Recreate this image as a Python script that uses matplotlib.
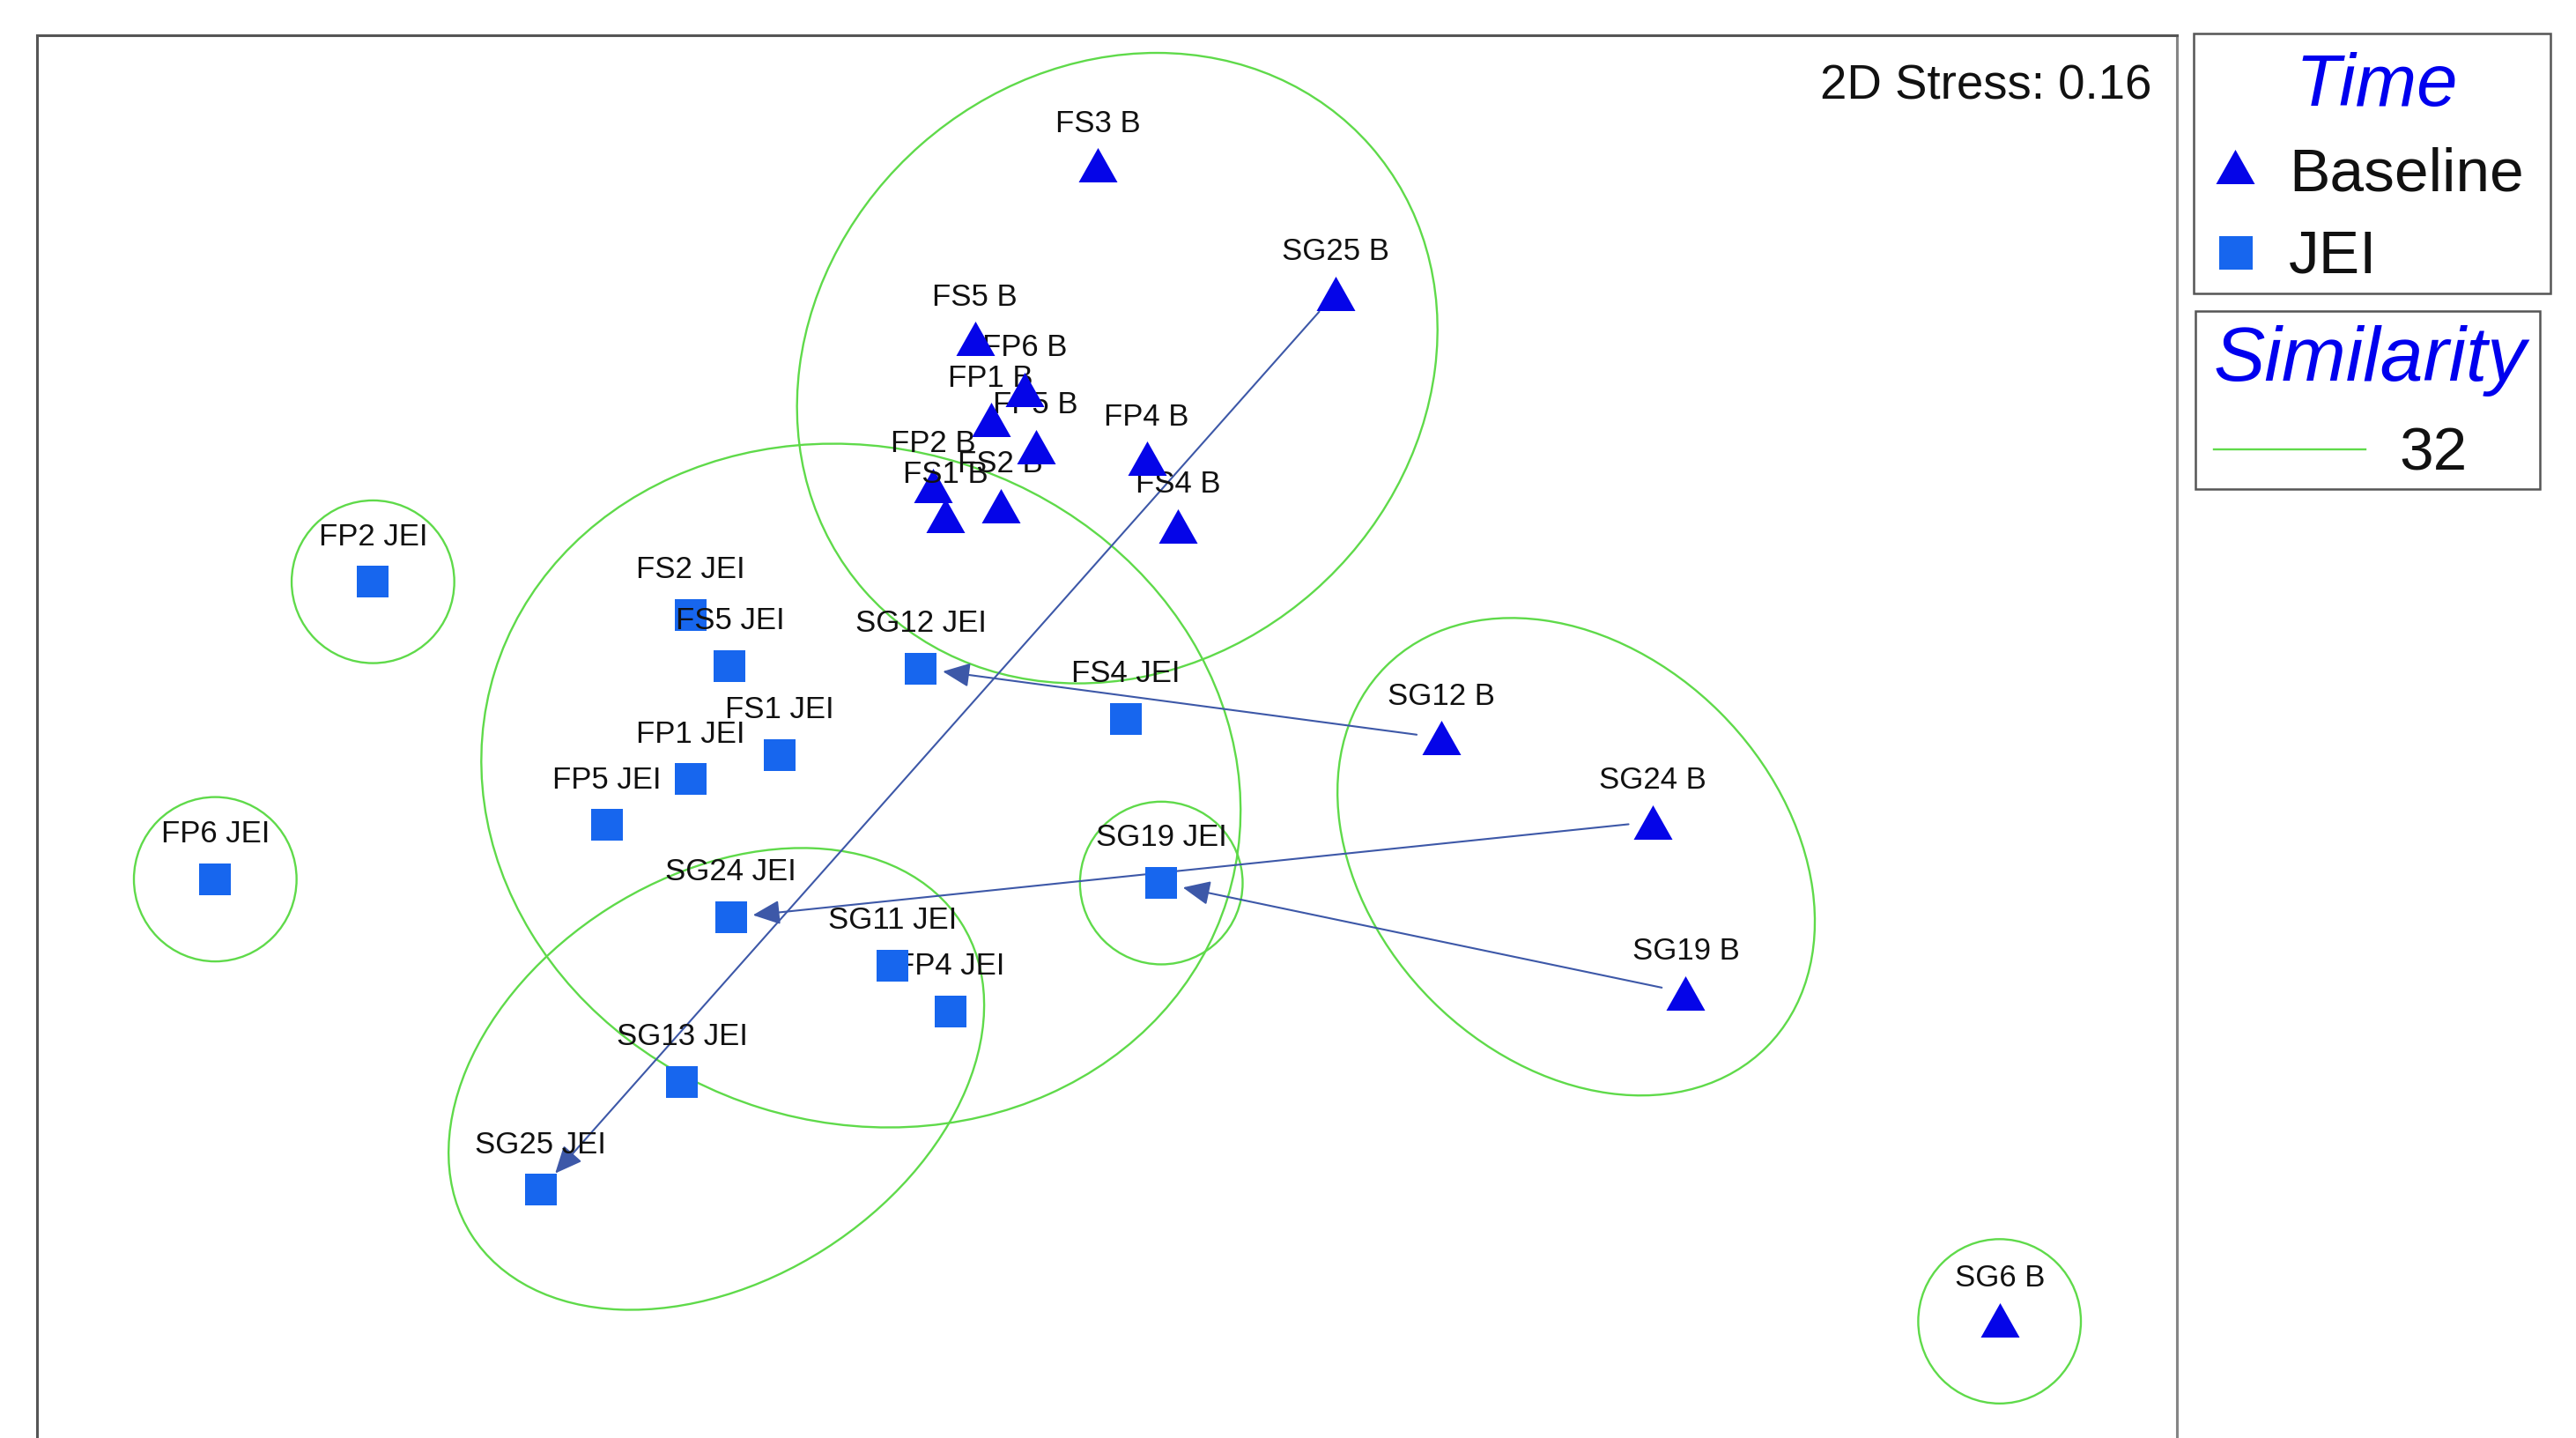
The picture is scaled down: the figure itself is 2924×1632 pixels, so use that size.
import matplotlib
matplotlib.use("Agg")
import matplotlib.pyplot as plt
from matplotlib.patches import Ellipse, Rectangle
from matplotlib.lines import Line2D

plt.rcParams['font.family'] = ['Liberation Sans', 'DejaVu Sans']

# ---------------- data (nMDS coordinates) ----------------
# Baseline samples (triangles), listed in drawing order
base_labels = ["FS3 B", "SG25 B", "FS4 B", "FP4 B", "FS2 B", "FP2 B", "FS1 B",
               "FP5 B", "FP1 B", "FP6 B", "FS5 B", "SG12 B", "SG24 B", "SG19 B", "SG6 B"]
base_x = [-0.030, 0.694, 0.215, 0.1195, -0.325, -0.530, -0.492,
          -0.2185, -0.355, -0.2525, -0.403, 1.015, 1.660, 1.760, 2.715]
base_y = [1.748, 1.3575, 0.650, 0.855, 0.7115, 0.773, 0.6805,
          0.891, 0.973, 1.0655, 1.2195, 0.005, -0.250, -0.770, -1.765]

# JEI samples (squares), listed in drawing order
jei_labels = ["FP2 JEI", "FS2 JEI", "FS5 JEI", "SG12 JEI", "FS4 JEI", "FS1 JEI",
              "FP1 JEI", "FP5 JEI", "FP6 JEI", "SG19 JEI", "SG24 JEI", "FP4 JEI",
              "SG11 JEI", "SG13 JEI", "SG25 JEI"]
jei_x = [-2.235, -1.2685, -1.149, -0.5675, 0.0565, -0.997,
         -1.2685, -1.5235, -2.715, 0.164, -1.1455, -0.477,
         -0.655, -1.2945, -1.725]
jei_y = [0.480, 0.3795, 0.2235, 0.216, 0.063, -0.047,
         -0.1205, -0.260, -0.425, -0.4365, -0.541, -0.8265,
         -0.687, -1.041, -1.370]

# Sites whose change Baseline -> JEI is shown with an arrow
arrow_sites = ["SG25", "SG12", "SG24", "SG19"]

# Similarity (32 %) contours approximated by ellipses: centre x, centre y, width, height, angle
ell_cx = [0.030, -0.750, -1.190, 1.4265, -2.235, -2.715, 0.164, 2.715]
ell_cy = [1.130, -0.140, -1.0325, -0.3565, 0.480, -0.425, -0.4365, -1.770]
ell_w = [2.050, 2.334, 1.767, 1.638, 0.495, 0.495, 0.495, 0.495]
ell_h = [1.810, 2.054, 1.228, 1.240, 0.495, 0.500, 0.495, 0.500]
ell_ang = [41.3, -17.3, 32.5, -45.0, 0, 0, 0, 0]

stress_text = "2D Stress: 0.16"
legend_time_title = "Time"
legend_time_items = ["Baseline", "JEI"]
legend_sim_title = "Similarity"
legend_sim_items = ["32"]

# ---------------- styles ----------------
TRI_C = "#0505e8"
SQ_C = "#1766ee"
GREEN = "#5fda4a"
ARROW_C = "#3d58a8"
tri_marker = [(-1, -0.886), (1, -0.886), (0, 0.886)]

fig = plt.figure(figsize=(29.24, 16.32), dpi=100)
ax = fig.add_axes([0.014364, 0.0, 0.830712, 0.97549])
ax.set_xlim(-3.2574, 3.2547)
ax.set_ylim(-2.125, 2.1428)
ax.set_xticks([])
ax.set_yticks([])
for side in ("left", "top"):
    ax.spines[side].set_color("#555555")
    ax.spines[side].set_linewidth(2.2)
ax.spines["right"].set_color("#858585")
ax.spines["right"].set_linewidth(2.2)
ax.spines["bottom"].set_visible(False)

# similarity contours
for cx, cy, w, h, a in zip(ell_cx, ell_cy, ell_w, ell_h, ell_ang):
    ax.add_patch(Ellipse((cx, cy), w, h, angle=a, fill=False,
                         edgecolor=GREEN, linewidth=1.7, zorder=1))

# arrows Baseline -> JEI
for site in arrow_sites:
    bi = base_labels.index(site + " B")
    ji = jei_labels.index(site + " JEI")
    ax.annotate("", xy=(jei_x[ji], jei_y[ji]), xytext=(base_x[bi], base_y[bi]),
                arrowprops=dict(arrowstyle="-|>,head_length=1.9,head_width=0.85",
                                mutation_scale=10, color=ARROW_C, lw=1.5,
                                shrinkA=20, shrinkB=18),
                zorder=2)

z = 3
for lab, x, y in zip(base_labels, base_x, base_y):
    ax.plot([x], [y], linestyle="none", marker=tri_marker, markersize=31.7,
            markerfacecolor=TRI_C, markeredgewidth=0, zorder=z)
    ax.annotate(lab, (x, y), xytext=(0, 27), textcoords="offset points",
                ha="center", va="baseline", fontsize=25, color="#111111", zorder=z + 1)
    z += 2

for lab, x, y in zip(jei_labels, jei_x, jei_y):
    ax.plot([x], [y], linestyle="none", marker="s", markersize=26.5,
            markerfacecolor=SQ_C, markeredgewidth=0, zorder=z)
    ax.annotate(lab, (x, y), xytext=(0, 30), textcoords="offset points",
                ha="center", va="baseline", fontsize=25, color="#111111", zorder=z + 1)
    z += 2

fig.text(0.83516, 0.93137, stress_text, ha="right", va="baseline",
         fontsize=39.3, color="#111111")

# ---------------- legend boxes ----------------
W, H = 2924.0, 1632.0

def fx(px):
    return px / W

def fy(py):
    return 1 - py / H

fig.add_artist(Rectangle((fx(2490), fy(333)), fx(2895) - fx(2490), fy(38) - fy(333),
                         transform=fig.transFigure, fill=False,
                         edgecolor="#555555", linewidth=1.8))
fig.add_artist(Rectangle((fx(2492), fy(555)), fx(2883) - fx(2492), fy(353) - fy(555),
                         transform=fig.transFigure, fill=False,
                         edgecolor="#555555", linewidth=1.8))

fig.text(fx(2698), fy(120), legend_time_title, ha="center", va="baseline",
         fontsize=60, style="italic", color="#0000ee")
fig.add_artist(Line2D([fx(2537)], [fy(189)], transform=fig.transFigure,
                      linestyle="none", marker=tri_marker, markersize=31.7,
                      markerfacecolor=TRI_C, markeredgewidth=0))
fig.add_artist(Line2D([fx(2537.5)], [fy(287)], transform=fig.transFigure,
                      linestyle="none", marker="s", markersize=28,
                      markerfacecolor=SQ_C, markeredgewidth=0))
fig.text(fx(2598), fy(216.7), legend_time_items[0], ha="left", va="baseline",
         fontsize=50, color="#111111")
fig.text(fx(2598), fy(310), legend_time_items[1], ha="left", va="baseline",
         fontsize=50, color="#111111")

fig.text(fx(2690), fy(431.7), legend_sim_title, ha="center", va="baseline",
         fontsize=63, style="italic", color="#0000ee")
fig.add_artist(Line2D([fx(2513), fx(2685)], [fy(510), fy(510)], transform=fig.transFigure,
                      color=GREEN, linewidth=1.7))
fig.text(fx(2762), fy(533), legend_sim_items[0], ha="center", va="baseline",
         fontsize=50, color="#111111")

fig.savefig("out.png", dpi=100)
